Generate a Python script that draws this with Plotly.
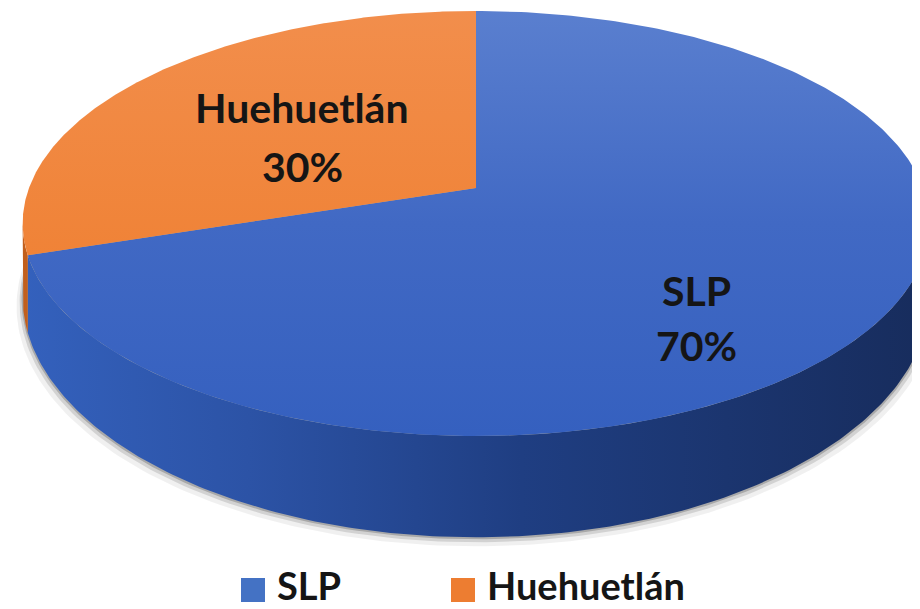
import numpy as np
import plotly.graph_objects as go

# ---------------- data ----------------
categories = ["SLP", "Huehuetlán"]
values = [70, 30]

# ---------------- style ----------------
top_scales = [
    [[0, "#5a7fcf"], [0.5, "#4169c4"], [1, "#3560bf"]],
    [[0, "#f28e4c"], [1, "#ee7a27"]],
]
wall_scales = [
    [[0, "#3461bd"], [0.25, "#2c53a6"], [0.55, "#1f3e82"], [1, "#172c5c"]],
    [[0, "#c25f1c"], [1, "#b0531a"]],
]
legend_colors = ["#4472c4", "#ed7d31"]
FONT = "Lato"

# projection of the pie disc (screen pixels)
CX, CY = 468.0, 180.0
A, B, K = 447.0, 206.6, 0.167
H0, K2 = 70.0, 0.309


def top_pt(theta, r=1.0):
    t = np.radians(theta)
    u, v = r * np.sin(t), r * np.cos(t)
    d = 1 + K * v
    return CX + A * u / d, CY - B * v / d


def bot_pt(theta):
    x, y = top_pt(theta)
    v = np.cos(np.radians(theta))
    return x, y + H0 / (1 + K2 * v)


total = sum(values)
fracs = [v / total for v in values]
bounds = np.concatenate([[0], np.cumsum(fracs)]) * 360.0

fig = go.Figure()

# soft shadow under the pie
full = np.linspace(0, 360, 361)
for off, grow, alpha in [(9, 6, 0.06), (5, 3, 0.12), (2, 1, 0.2)]:
    bx, by = bot_pt(full)
    fig.add_trace(go.Scatter(
        x=CX + (bx - CX) * (1 + grow / A), y=by + off,
        fill="toself", mode="lines", line=dict(width=0),
        fillcolor=f"rgba(0,0,0,{alpha})", hoverinfo="skip", showlegend=False))

# side wall (visible front part)
thR = np.degrees(np.arccos(-K))
thL = 360 - thR
for i in range(len(values)):
    a0 = max(bounds[i], thR)
    a1 = min(bounds[i + 1], thL)
    if a1 <= a0:
        continue
    th = np.linspace(a0, a1, 200)
    tx, ty = top_pt(th)
    bx, by = bot_pt(th[::-1])
    fig.add_trace(go.Scatter(
        x=np.concatenate([tx, bx]), y=np.concatenate([ty, by]),
        fill="toself", mode="lines", line=dict(width=0),
        fillgradient=dict(type="horizontal", colorscale=wall_scales[i],
                          start=CX - A * 1.02, stop=CX + A * 1.02),
        hoverinfo="skip", showlegend=False))

# top faces of the slices
for i in range(len(values)):
    th = np.linspace(bounds[i], bounds[i + 1], 300)
    tx, ty = top_pt(th)
    fig.add_trace(go.Scatter(
        x=np.concatenate([[CX], tx, [CX]]), y=np.concatenate([[CY], ty, [CY]]),
        fill="toself", mode="lines", line=dict(width=0),
        fillgradient=dict(type="vertical", colorscale=top_scales[i],
                          start=CY - B / (1 + K), stop=CY + B / (1 - K)),
        hoverinfo="skip", showlegend=False))

# data labels
LABEL_POS = [(688, 282, 337), (294, 99, 158)]
for i, cat in enumerate(categories):
    lx, ly1, ly2 = LABEL_POS[i]
    pct = f"{round(values[i] / total * 100)}%"
    for txt, yy in [(cat, ly1), (pct, ly2)]:
        fig.add_annotation(x=lx, y=yy, text=f"<b>{txt}</b>", showarrow=False,
                           xanchor="center", yanchor="middle",
                           font=dict(family=FONT, size=41, color="#151515"))

# legend
LEG_MARK = [(245, 582), (455, 582)]
fig.add_trace(go.Scatter(
    x=[p[0] for p in LEG_MARK], y=[p[1] for p in LEG_MARK], mode="markers",
    marker=dict(symbol="square", size=24, color=legend_colors, line=dict(width=0)),
    hoverinfo="skip", showlegend=False))
for i, cat in enumerate(categories):
    fig.add_annotation(x=LEG_MARK[i][0] + 22, y=LEG_MARK[i][1] - 5, text=f"<b>{cat}</b>",
                       showarrow=False, xanchor="left", yanchor="middle",
                       font=dict(family=FONT, size=38, color="#151515"))

fig.update_layout(
    width=920, height=609, margin=dict(l=0, r=0, t=0, b=0),
    paper_bgcolor="white", plot_bgcolor="white",
    xaxis=dict(range=[0, 920], visible=False, fixedrange=True),
    yaxis=dict(range=[609, 0], visible=False, fixedrange=True),
)
fig.write_html("out.html")
